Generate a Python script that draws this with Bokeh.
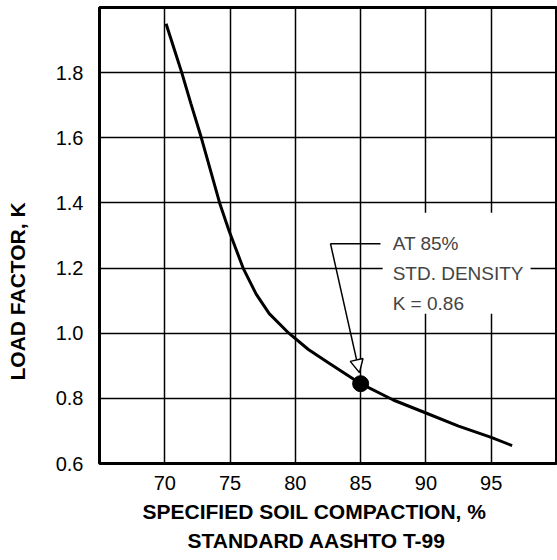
from bokeh.plotting import figure
from bokeh.models import Range1d, Label, Arrow, NormalHead, PrintfTickFormatter, Title
from bokeh.embed import file_html
from bokeh.resources import INLINE

# ---- data ----
compaction = [70.1, 70.7, 71.3, 72.0, 72.8, 73.5, 74.2, 74.9, 76.0, 77.0, 78.0,
              79.5, 81.0, 82.5, 85.0, 87.5, 90.0, 92.5, 95.0, 96.6]
load_factor = [1.95, 1.875, 1.80, 1.705, 1.60, 1.50, 1.40, 1.317, 1.20, 1.12, 1.06,
               1.00, 0.95, 0.91, 0.845, 0.795, 0.755, 0.715, 0.68, 0.655]
point_x = [85.0]
point_k = [0.845]
x_ticks = [70, 75, 80, 85, 90, 95]
y_ticks = [0.6, 0.8, 1.0, 1.2, 1.4, 1.6, 1.8]
note_text = "AT 85%\nSTD. DENSITY\nK = 0.86"
x_title_1 = "SPECIFIED SOIL COMPACTION, %"
x_title_2 = "STANDARD AASHTO T-99"
y_title = "LOAD FACTOR, K"

FONT = "Liberation Sans"

p = figure(width=557, height=560, x_range=Range1d(65, 100), y_range=Range1d(0.6, 2.0),
           output_backend="svg", toolbar_location=None, title=None,
           min_border_left=99, min_border_right=1, min_border_top=7, min_border_bottom=97)
p.background_fill_color = "white"
p.border_fill_color = "white"
p.outline_line_color = "black"
p.outline_line_width = 3

p.xaxis.ticker = x_ticks
p.yaxis.ticker = y_ticks
p.yaxis.formatter = PrintfTickFormatter(format="%.1f")
for ax in (p.xaxis, p.yaxis):
    ax.axis_line_color = None
    ax.major_tick_line_color = None
    ax.minor_tick_line_color = None
    ax.major_label_text_font = FONT
    ax.major_label_text_font_size = "20px"
    ax.major_label_text_color = "black"
p.xaxis.major_label_standoff = 6
p.yaxis.major_label_standoff = 10
# blank spacer between y tick labels and the y title
p.yaxis.axis_label = " "
p.yaxis.axis_label_text_font_size = "1px"
p.yaxis.axis_label_standoff = 14

for g in (p.xgrid, p.ygrid):
    g.grid_line_color = "black"
    g.grid_line_width = 1.5
    g.grid_line_alpha = 1.0

# axis titles
t1 = Title(text=x_title_1, align="left", offset=43, standoff=11, vertical_align="bottom",
           text_font=FONT, text_font_style="bold", text_font_size="21px", text_color="black")
t2 = Title(text=x_title_2, align="left", offset=88, standoff=0, vertical_align="top",
           text_font=FONT, text_font_style="bold", text_font_size="21px", text_color="black")
p.add_layout(t1, "below")
p.add_layout(t2, "below")
ty = Title(text=y_title, align="left", offset=83, standoff=8, vertical_align="top",
           text_font=FONT, text_font_style="bold", text_font_size="21px", text_color="black")
p.add_layout(ty, "left")

p.line(compaction, load_factor, line_color="black", line_width=3)
p.scatter(point_x, point_k, marker="circle", size=16, color="black")

# leader line with arrow (annotation, placed relative to highlighted point)
corner_x = point_x[0] - 2.31
corner_y = point_k[0] + 0.43
p.line([corner_x, point_x[0] + 1.52], [corner_y, corner_y], line_color="black", line_width=1.5)
p.add_layout(Arrow(end=NormalHead(size=13, fill_color="white", line_color="black", line_width=1.5),
                   x_start=corner_x, y_start=corner_y,
                   x_end=point_x[0] - 0.09, y_end=point_k[0] + 0.034,
                   line_color="black", line_width=1.5))

p.add_layout(Label(x=point_x[0], y=point_k[0], x_offset=22, y_offset=171,
                   text=note_text, text_font=FONT, text_font_size="19px",
                   text_align="left", text_baseline="top", text_line_height=1.43,
                   background_fill_color="white", background_fill_alpha=1.0,
                   padding=dict(left=10, right=7, top=20, bottom=0)))

open("out.html", "w").write(file_html(p, INLINE))
